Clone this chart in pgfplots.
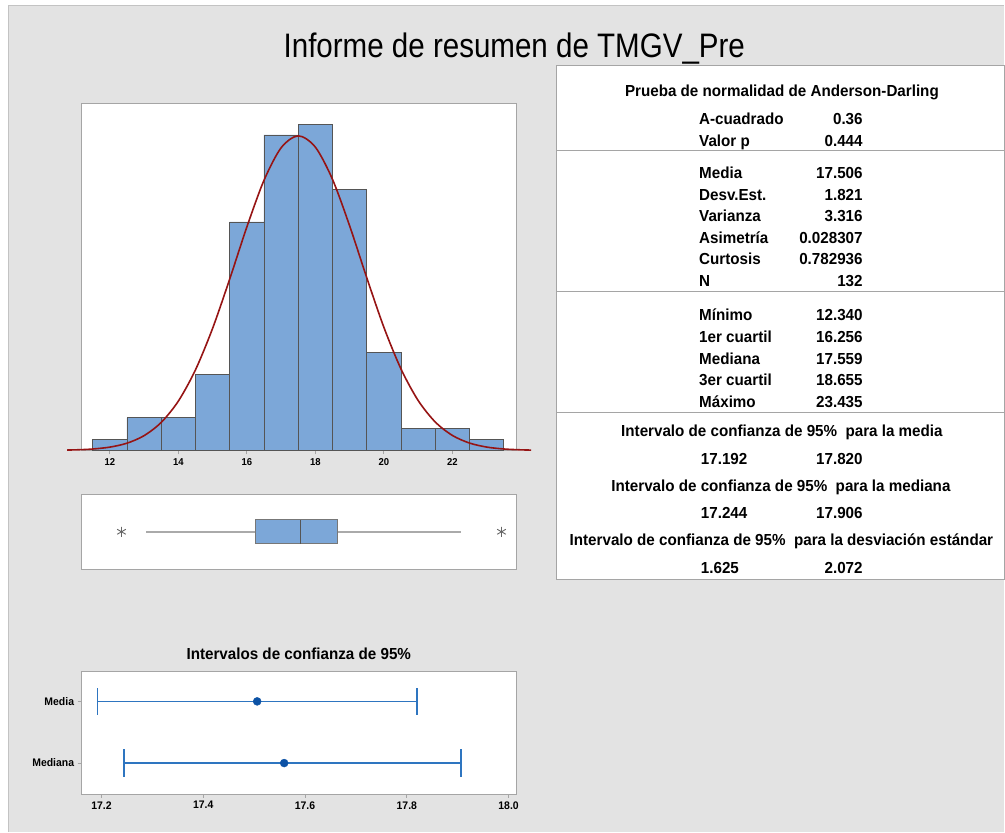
\documentclass[border=0pt]{standalone}
\usepackage{fontspec}
\setmainfont{Liberation Sans}[FakeStretch=0.95]
\newfontfamily\titlefont{Liberation Sans}[FakeStretch=0.87]
\usepackage{pgfplots}
\pgfplotsset{compat=1.18}
\definecolor{bggray}{RGB}{227,227,227}
\definecolor{edgegray}{RGB}{195,195,195}
\definecolor{framegray}{RGB}{165,165,165}
\definecolor{barblue}{RGB}{124,167,216}
\definecolor{baredge}{RGB}{85,85,85}
\definecolor{curvered}{RGB}{150,20,20}
\definecolor{whiskgray}{RGB}{170,170,170}
\definecolor{ciline}{RGB}{46,117,192}
\definecolor{cidot}{RGB}{12,82,165}
\pgfplotsset{ci/.style={fill=ciline, draw=none, no marks},
  whisk/.style={fill=whiskgray, draw=none, no marks}}

\begin{document}
\begin{tikzpicture}[x=1pt,y=-1pt]
\tikzset{tab/.style={font=\bfseries\fontsize{16}{19}\selectfont, inner sep=0pt}}
% background
\fill[white] (0,0) rectangle (1005,833);
\fill[bggray] (9,6) rectangle (1005,833);
\draw[edgegray,line width=1pt] (9,833) -- (9,6) -- (1005,6);

\node[font=\titlefont\fontsize{34}{40}\selectfont, anchor=base, inner sep=0pt] at (515,58) {Informe de resumen de TMGV\_Pre};

% ---- histogram with fitted normal ----
\begin{axis}[at={(81.7pt,-451pt)}, anchor=south west, scale only axis,
  width=435pt, height=347pt,
  xmin=11.175, xmax=23.857, ymin=0, ymax=31.86, clip=false,
  axis background/.style={fill=white},
  axis line style={framegray, line width=0.8pt},
  xtick={12,14,...,22}, ytick=\empty, tick pos=left, tick align=outside,
  major tick length=4pt, x tick style={framegray, line width=0.8pt},
  tick label style={font=\bfseries\fontsize{10}{12}\selectfont,
    /pgf/number format/assume math mode=true},
  xticklabel style={yshift=-1pt}]
\addplot[ybar interval, fill=barblue, draw=baredge, line width=0.8pt]
  coordinates {(11.5,1)(12.5,3)(13.5,3)(14.5,7)(15.5,21)(16.5,29)(17.5,30)
               (18.5,24)(19.5,9)(20.5,2)(21.5,2)(22.5,1)(23.5,1)};
\addplot[draw=curvered, line width=1.6pt, smooth, no marks] coordinates {
  (10.75,0.030)(11.1,0.059)(11.5,0.126)(12,0.299)(12.5,0.661)(13,1.354)
  (13.5,2.572)(14,4.532)(14.5,7.404)(15,11.22)(15.5,15.76)(16,20.54)
  (16.5,24.83)(17,27.82)(17.5,28.92)(18,27.88)(18.5,24.92)(19,20.65)
  (19.5,15.88)(20,11.32)(20.5,7.485)(21,4.590)(21.5,2.610)(22,1.376)
  (22.5,0.673)(23,0.305)(23.5,0.128)(24,0.050)(24.3,0.027)};
\end{axis}

% ---- box plot ----
\begin{axis}[at={(81.7pt,-570pt)}, anchor=south west, scale only axis,
  width=435pt, height=75pt,
  xmin=11.175, xmax=23.857, ymin=0, ymax=1,
  axis background/.style={fill=white},
  axis line style={framegray, line width=0.8pt},
  xtick=\empty, ytick=\empty]
% whiskers (13.07 to Q1, Q3 to 22.25), about 2 px thick
\addplot[whisk] coordinates {(13.07,0.487)(16.256,0.487)(16.256,0.513)(13.07,0.513)} -- cycle;
\addplot[whisk] coordinates {(18.655,0.487)(22.25,0.487)(22.25,0.513)(18.655,0.513)} -- cycle;
% box (Q1 to Q3) and median
\addplot[fill=barblue, draw=baredge!80, line width=0.9pt]
  coordinates {(16.256,0.338)(18.655,0.338)(18.655,0.662)(16.256,0.662)} -- cycle;
\addplot[draw=baredge, line width=0.9pt, no marks] coordinates {(17.559,0.338)(17.559,0.662)};
% outliers
\addplot[only marks, mark=asterisk, mark size=5pt,
  mark options={draw=black!60, line width=0.9pt}]
  coordinates {(12.340,0.5)(23.435,0.5)};
\end{axis}

% ---- confidence intervals ----
\begin{axis}[at={(81.7pt,-795pt)}, anchor=south west, scale only axis,
  width=435pt, height=122.3pt,
  xmin=17.161, xmax=18.0145, ymin=0.5, ymax=2.48,
  axis background/.style={fill=white},
  axis line style={framegray, line width=0.8pt},
  ytick={1,2}, yticklabels={Mediana,Media},
  xtick={17.2,17.4,17.6,17.8,18.0},
  xticklabel style={/pgf/number format/.cd, fixed, fixed zerofill, precision=1},
  tick pos=left, tick align=outside, major tick length=4pt,
  tick style={framegray, line width=0.8pt},
  tick label style={font=\bfseries\fontsize{11}{13}\selectfont,
    /pgf/number format/assume math mode=true},
  title={Intervalos de confianza de 95\%},
  title style={font=\bfseries\fontsize{16}{19}\selectfont, at={(0.5,1)},
    anchor=base, yshift=6.7pt, inner sep=0pt}]
% Media: 17.192 -- 17.820 (interval and end caps, about 1.5 px thick)
\addplot[ci] coordinates {(17.192,1.988)(17.820,1.988)(17.820,2.012)(17.192,2.012)} -- cycle;
\addplot[ci] coordinates {(17.1905,1.775)(17.1935,1.775)(17.1935,2.225)(17.1905,2.225)} -- cycle;
\addplot[ci] coordinates {(17.8185,1.775)(17.8215,1.775)(17.8215,2.225)(17.8185,2.225)} -- cycle;
% Mediana: 17.244 -- 17.906
\addplot[ci] coordinates {(17.244,0.988)(17.906,0.988)(17.906,1.012)(17.244,1.012)} -- cycle;
\addplot[ci] coordinates {(17.2425,0.775)(17.2455,0.775)(17.2455,1.225)(17.2425,1.225)} -- cycle;
\addplot[ci] coordinates {(17.9045,0.775)(17.9075,0.775)(17.9075,1.225)(17.9045,1.225)} -- cycle;
% estimates
\addplot[only marks, mark=*, mark size=4pt, draw=cidot, fill=cidot] coordinates {(17.506,2)(17.559,1)};
\end{axis}

% ---- statistics table ----
\draw[framegray, fill=white, line width=0.8pt] (557,65) rectangle (1006,580);
\draw[framegray, line width=0.8pt] (557,151) -- (1005,151);
\draw[framegray, line width=0.8pt] (557,292) -- (1005,292);
\draw[framegray, line width=0.8pt] (557,413) -- (1005,413);

\node[tab, anchor=base] at (783,96.7) {Prueba de normalidad de Anderson-Darling};
\node[tab, anchor=base west] at (700,125) {A-cuadrado};
\node[tab, anchor=base east] at (864,125) {0.36};
\node[tab, anchor=base west] at (700,146.7) {Valor p};
\node[tab, anchor=base east] at (864,146.7) {0.444};

\node[tab, anchor=base west] at (700,179) {Media};
\node[tab, anchor=base east] at (864,179) {17.506};
\node[tab, anchor=base west] at (700,200.5) {Desv.Est.};
\node[tab, anchor=base east] at (864,200.5) {1.821};
\node[tab, anchor=base west] at (700,222) {Varianza};
\node[tab, anchor=base east] at (864,222) {3.316};
\node[tab, anchor=base west] at (700,243.6) {Asimetría};
\node[tab, anchor=base east] at (864,243.6) {0.028307};
\node[tab, anchor=base west] at (700,265.1) {Curtosis};
\node[tab, anchor=base east] at (864,265.1) {0.782936};
\node[tab, anchor=base west] at (700,286.7) {N};
\node[tab, anchor=base east] at (864,286.7) {132};

\node[tab, anchor=base west] at (700,320.7) {Mínimo};
\node[tab, anchor=base east] at (864,320.7) {12.340};
\node[tab, anchor=base west] at (700,342.6) {1er cuartil};
\node[tab, anchor=base east] at (864,342.6) {16.256};
\node[tab, anchor=base west] at (700,364.5) {Mediana};
\node[tab, anchor=base east] at (864,364.5) {17.559};
\node[tab, anchor=base west] at (700,386.4) {3er cuartil};
\node[tab, anchor=base east] at (864,386.4) {18.655};
\node[tab, anchor=base west] at (700,408.3) {Máximo};
\node[tab, anchor=base east] at (864,408.3) {23.435};

\node[tab, anchor=base] at (783,437.3) {Intervalo de confianza de 95\%\ \ para la media};
\node[tab, anchor=base west] at (701.7,465) {17.192};
\node[tab, anchor=base east] at (864,465) {17.820};
\node[tab, anchor=base] at (782,492.3) {Intervalo de confianza de 95\%\ \ para la mediana};
\node[tab, anchor=base west] at (701.7,519.3) {17.244};
\node[tab, anchor=base east] at (864,519.3) {17.906};
\node[tab, anchor=base] at (782.5,546.7) {Intervalo de confianza de 95\%\ \ para la desviación estándar};
\node[tab, anchor=base west] at (701.7,574) {1.625};
\node[tab, anchor=base east] at (864,574) {2.072};
\end{tikzpicture}
\end{document}
